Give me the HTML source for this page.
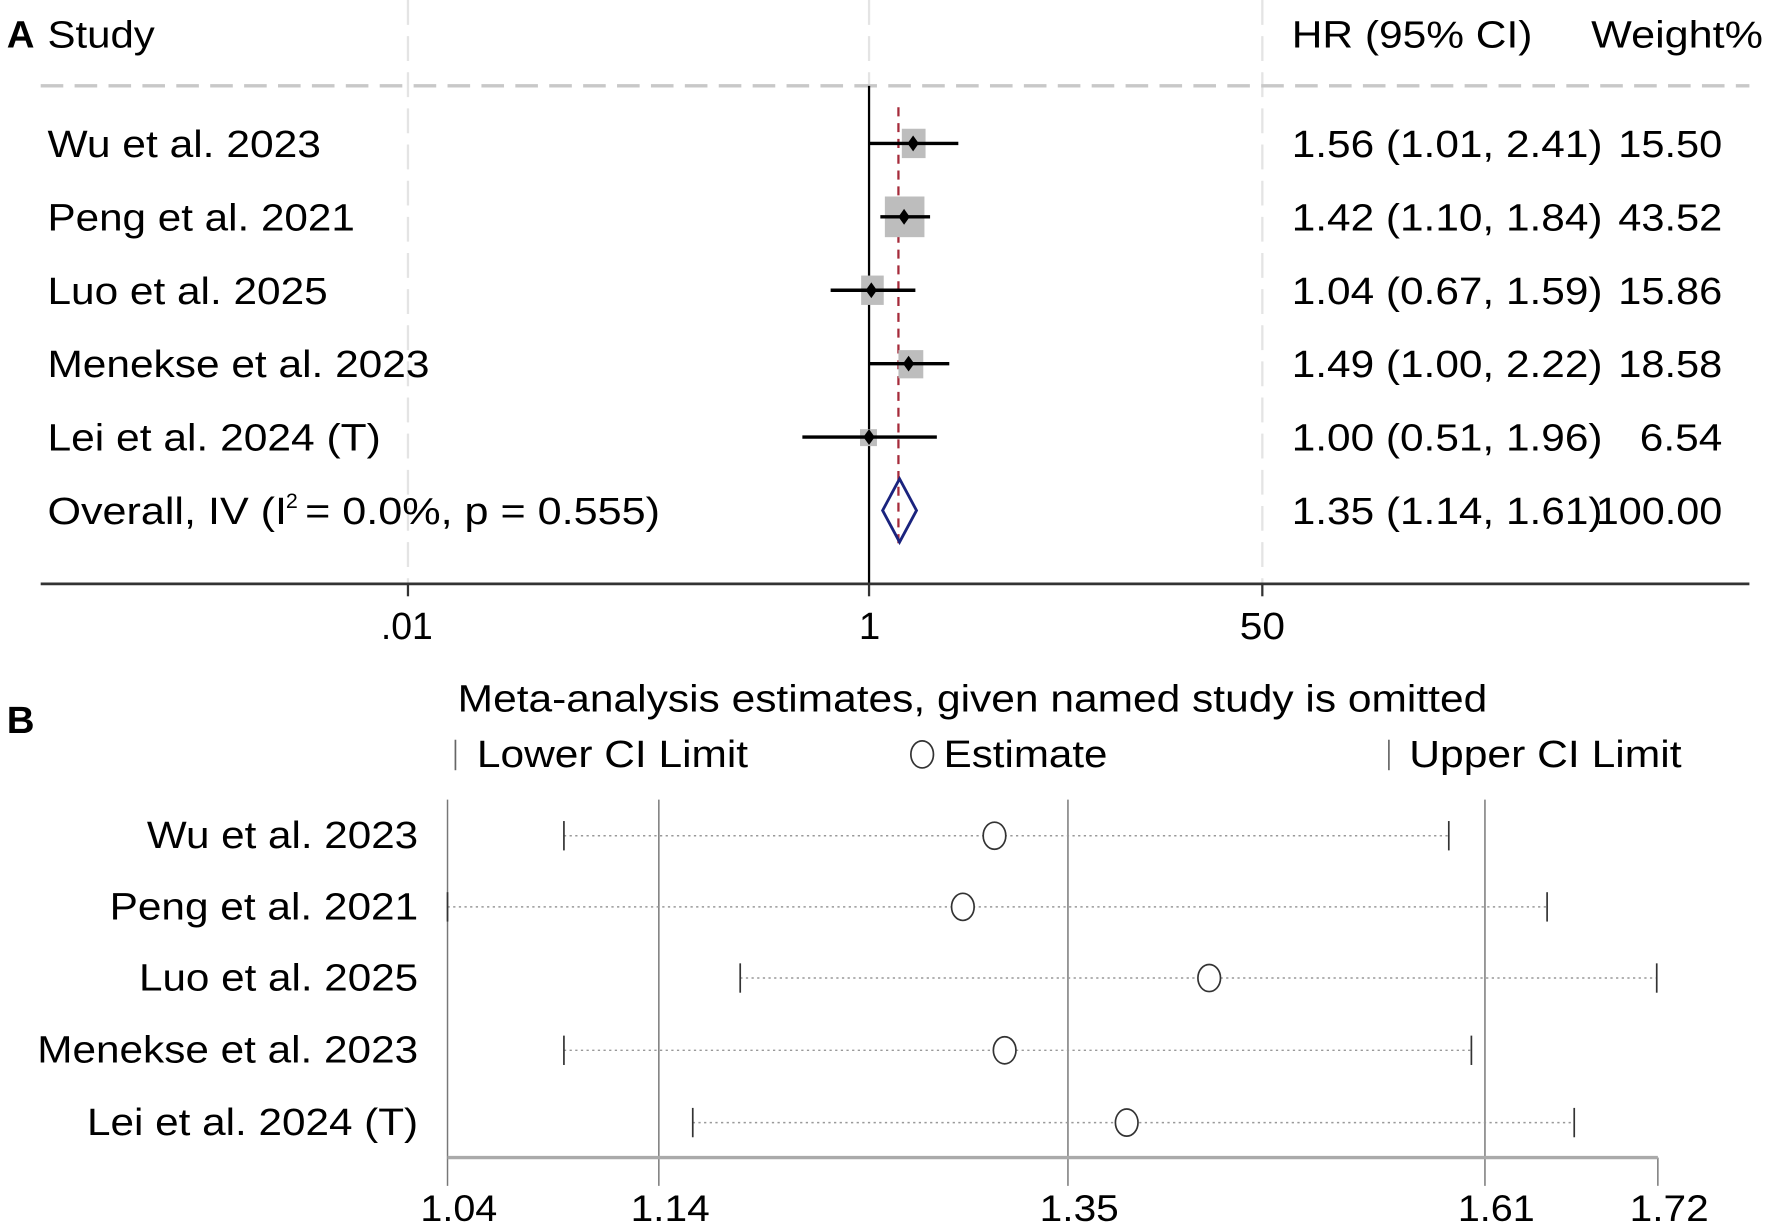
<!DOCTYPE html>
<html><head><meta charset="utf-8"><style>html,body{margin:0;padding:0;background:#fff}svg{display:block}text{font-family:"Liberation Sans",Arial,sans-serif;fill:#000}</style></head>
<body>
<svg width="1772" height="1231" viewBox="0 0 1568 1090" preserveAspectRatio="none" xmlns="http://www.w3.org/2000/svg">
<rect width="1568" height="1090" fill="#fff"/>
<g stroke="#e4e4e4" stroke-width="2" stroke-dasharray="22 10">
<line x1="361" y1="0" x2="361" y2="517"/>
<line x1="769" y1="0" x2="769" y2="76"/>
<line x1="1117" y1="0" x2="1117" y2="517"/>
</g>
<line x1="36" y1="76" x2="1548" y2="76" stroke="#c8c8c8" stroke-width="3" stroke-dasharray="20 10"/>
<g font-size="34" lengthAdjust="spacingAndGlyphs">
<text x="6" y="42" font-weight="bold">A</text>
<text x="42" y="42" textLength="95" lengthAdjust="spacingAndGlyphs">Study</text>
<text x="1143" y="42" textLength="213" lengthAdjust="spacingAndGlyphs">HR (95% CI)</text>
<text x="1408" y="42" textLength="152" lengthAdjust="spacingAndGlyphs">Weight%</text>
</g>
<line x1="769" y1="76" x2="769" y2="517" stroke="#000" stroke-width="2"/>
<line x1="795" y1="95" x2="795" y2="483" stroke="#a52a3a" stroke-width="2" stroke-dasharray="8 6"/>
<g fill="#bdbdbd">
<rect x="798" y="114" width="21" height="26"/>
<rect x="783" y="174" width="35" height="36"/>
<rect x="762" y="244" width="20" height="26"/>
<rect x="795" y="310" width="22" height="25"/>
<rect x="761" y="380" width="15" height="15"/>
</g>
<g stroke="#000" stroke-width="3">
<line x1="769" y1="127" x2="848" y2="127"/>
<line x1="779" y1="192" x2="823" y2="192"/>
<line x1="735" y1="257" x2="810" y2="257"/>
<line x1="769" y1="322" x2="840" y2="322"/>
<line x1="710" y1="387" x2="829" y2="387"/>
</g>
<g fill="#000">
<path d="M808 120 L813 127 L808 134 L803 127Z"/>
<path d="M800 185 L805 192 L800 199 L795 192Z"/>
<path d="M771 250 L776 257 L771 264 L766 257Z"/>
<path d="M804 315 L809 322 L804 329 L799 322Z"/>
<path d="M769 380 L774 387 L769 394 L764 387Z"/>
</g>
<path d="M796 424 L811 452 L796 480 L781 452Z" fill="none" stroke="#1a237e" stroke-width="2.5"/>
<g font-size="34">
<text x="42" y="139" textLength="242" lengthAdjust="spacingAndGlyphs">Wu et al. 2023</text>
<text x="42" y="204" textLength="272" lengthAdjust="spacingAndGlyphs">Peng et al. 2021</text>
<text x="42" y="269" textLength="248" lengthAdjust="spacingAndGlyphs">Luo et al. 2025</text>
<text x="42" y="334" textLength="338" lengthAdjust="spacingAndGlyphs">Menekse et al. 2023</text>
<text x="42" y="399" textLength="295" lengthAdjust="spacingAndGlyphs">Lei et al. 2024 (T)</text>
<text x="42" y="464" textLength="212" lengthAdjust="spacingAndGlyphs">Overall, IV (I</text>
<text x="253" y="450" font-size="19">2</text>
<text x="270" y="464" textLength="314" lengthAdjust="spacingAndGlyphs"> = 0.0%, p = 0.555)</text>
<text x="1143" y="139" textLength="275" lengthAdjust="spacingAndGlyphs">1.56 (1.01, 2.41)</text>
<text x="1143" y="204" textLength="275" lengthAdjust="spacingAndGlyphs">1.42 (1.10, 1.84)</text>
<text x="1143" y="269" textLength="275" lengthAdjust="spacingAndGlyphs">1.04 (0.67, 1.59)</text>
<text x="1143" y="334" textLength="275" lengthAdjust="spacingAndGlyphs">1.49 (1.00, 2.22)</text>
<text x="1143" y="399" textLength="275" lengthAdjust="spacingAndGlyphs">1.00 (0.51, 1.96)</text>
<text x="1143" y="464" textLength="275" lengthAdjust="spacingAndGlyphs">1.35 (1.14, 1.61)</text>
<text x="1432" y="139" textLength="92" lengthAdjust="spacingAndGlyphs">15.50</text>
<text x="1432" y="204" textLength="92" lengthAdjust="spacingAndGlyphs">43.52</text>
<text x="1432" y="269" textLength="92" lengthAdjust="spacingAndGlyphs">15.86</text>
<text x="1432" y="334" textLength="92" lengthAdjust="spacingAndGlyphs">18.58</text>
<text x="1451" y="399" textLength="73" lengthAdjust="spacingAndGlyphs">6.54</text>
<text x="1412" y="464" textLength="112" lengthAdjust="spacingAndGlyphs">100.00</text>
</g>
<line x1="36" y1="517" x2="1548" y2="517" stroke="#333" stroke-width="2.5"/>
<g stroke="#333" stroke-width="2">
<line x1="361" y1="517" x2="361" y2="528"/>
<line x1="769" y1="517" x2="769" y2="528"/>
<line x1="1117" y1="517" x2="1117" y2="528"/>
</g>
<g font-size="34">
<text x="337" y="566" textLength="46" lengthAdjust="spacingAndGlyphs">.01</text>
<text x="760" y="566">1</text>
<text x="1097" y="566" textLength="40" lengthAdjust="spacingAndGlyphs">50</text>
</g>
<text x="6" y="649" font-size="34" font-weight="bold">B</text>
<text x="405" y="630" font-size="34" textLength="911" lengthAdjust="spacingAndGlyphs">Meta-analysis estimates, given named study is omitted</text>
<g stroke="#666" stroke-width="1.5">
<line x1="403" y1="655" x2="403" y2="682"/>
<line x1="1229" y1="655" x2="1229" y2="682"/>
</g>
<ellipse cx="816" cy="668" rx="10" ry="12" fill="none" stroke="#333" stroke-width="1.5"/>
<g font-size="34">
<text x="422" y="679" textLength="240" lengthAdjust="spacingAndGlyphs">Lower CI Limit</text>
<text x="835" y="679" textLength="145" lengthAdjust="spacingAndGlyphs">Estimate</text>
<text x="1247" y="679" textLength="241" lengthAdjust="spacingAndGlyphs">Upper CI Limit</text>
</g>
<g stroke="#777" stroke-width="1.3">
<line x1="396" y1="708" x2="396" y2="1050"/>
<line x1="583" y1="708" x2="583" y2="1050"/>
<line x1="945" y1="708" x2="945" y2="1050"/>
<line x1="1314" y1="708" x2="1314" y2="1050"/>
<line x1="1467" y1="1025" x2="1467" y2="1050"/>
</g>
<line x1="396" y1="1025" x2="1467" y2="1025" stroke="#aaa" stroke-width="3"/>
<g font-size="33">
<text x="372" y="1081" textLength="68" lengthAdjust="spacingAndGlyphs">1.04</text>
<text x="558" y="1081" textLength="70" lengthAdjust="spacingAndGlyphs">1.14</text>
<text x="920" y="1081" textLength="70" lengthAdjust="spacingAndGlyphs">1.35</text>
<text x="1290" y="1081" textLength="68" lengthAdjust="spacingAndGlyphs">1.61</text>
<text x="1442" y="1081" textLength="70" lengthAdjust="spacingAndGlyphs">1.72</text>
</g>
<g font-size="34">
<text x="130" y="751" textLength="240" lengthAdjust="spacingAndGlyphs">Wu et al. 2023</text>
<text x="97" y="814" textLength="273" lengthAdjust="spacingAndGlyphs">Peng et al. 2021</text>
<text x="123" y="877" textLength="247" lengthAdjust="spacingAndGlyphs">Luo et al. 2025</text>
<text x="33" y="941" textLength="337" lengthAdjust="spacingAndGlyphs">Menekse et al. 2023</text>
<text x="77" y="1005" textLength="293" lengthAdjust="spacingAndGlyphs">Lei et al. 2024 (T)</text>
</g>
<g stroke="#999" stroke-width="1.3" stroke-dasharray="2 3">
<line x1="499" y1="740" x2="1282" y2="740"/>
<line x1="396" y1="803" x2="1369" y2="803"/>
<line x1="655" y1="866" x2="1466" y2="866"/>
<line x1="499" y1="930" x2="1302" y2="930"/>
<line x1="613" y1="994" x2="1393" y2="994"/>
</g>
<g stroke="#333" stroke-width="1.5">
<line x1="499" y1="727" x2="499" y2="753"/><line x1="1282" y1="727" x2="1282" y2="753"/>
<line x1="396" y1="790" x2="396" y2="816"/><line x1="1369" y1="790" x2="1369" y2="816"/>
<line x1="655" y1="853" x2="655" y2="879"/><line x1="1466" y1="853" x2="1466" y2="879"/>
<line x1="499" y1="917" x2="499" y2="943"/><line x1="1302" y1="917" x2="1302" y2="943"/>
<line x1="613" y1="981" x2="613" y2="1007"/><line x1="1393" y1="981" x2="1393" y2="1007"/>
</g>
<g fill="#fff" stroke="#333" stroke-width="1.5">
<ellipse cx="880" cy="740" rx="10" ry="12"/>
<ellipse cx="852" cy="803" rx="10" ry="12"/>
<ellipse cx="1070" cy="866" rx="10" ry="12"/>
<ellipse cx="889" cy="930" rx="10" ry="12"/>
<ellipse cx="997" cy="994" rx="10" ry="12"/>
</g>
</svg>
</body></html>
